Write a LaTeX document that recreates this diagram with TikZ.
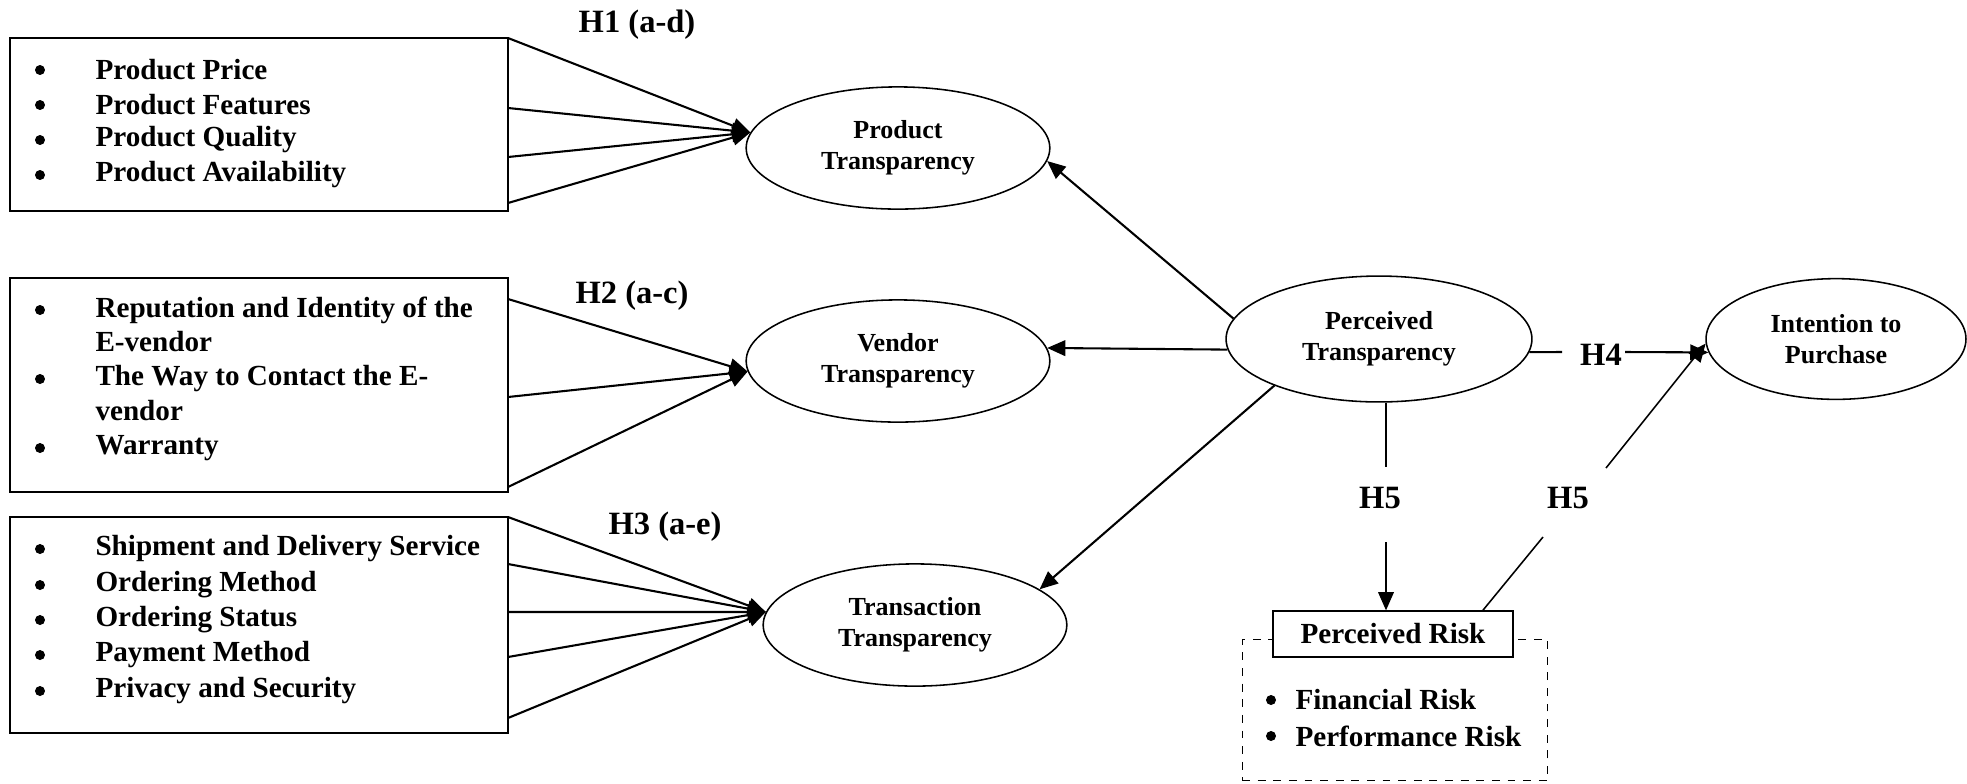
\documentclass[tikz,border=0pt]{standalone}
\usepackage{fontspec}
\setmainfont{Liberation Serif}
\usetikzlibrary{calc,arrows.meta,shapes.geometric}

\begin{document}
\begin{tikzpicture}[x=0.0135cm,y=-0.0135cm,
  every node/.style={font=\bfseries\fontsize{11.2}{13.6}\selectfont},
  listbox/.style={draw,thick,minimum width=6.72cm,inner sep=0pt},
  item/.style={anchor=west,inner sep=0pt},
  construct/.style={draw,semithick,ellipse,align=center,inner sep=0pt,minimum width=4.1cm,minimum height=1.65cm,font=\bfseries\fontsize{10}{12}\selectfont},
  hyp/.style={inner sep=1pt,font=\bfseries\fontsize{12.5}{14}\selectfont},
  arr/.style={thick,-{Triangle[length=7pt,width=6pt]}}]
      \useasboundingbox (0,0) rectangle (1967,783);

      % BOITES GAUCHE
      \node[listbox,minimum height=2.34cm] (PB) at (259,124.5) {};
      \node[listbox,minimum height=2.89cm] (VB) at (259,385) {};
      \node[listbox,minimum height=2.92cm] (TB) at (259,625) {};

      % ITEMS PRODUIT
      \node[item] (pp) at (95,70) {Product Price};
      \node[item] (pf) at (95,105) {Product Features};
      \node[item] (pq) at (95,140) {Product Quality};
      \node[item] (pa) at (95,175) {Product Availability};
      \filldraw (40,70) circle (1.7pt);
      \filldraw (40,105) circle (1.7pt);
      \filldraw (40,140) circle (1.7pt);
      \filldraw (40,175) circle (1.7pt);

      % ITEMS VENDEUR
      \node[item] (vr) at (95,310) {Reputation and Identity of the};
      \node[item] (vr2) at (95,342) {E-vendor};
      \node[item] (vw) at (95,379) {The Way to Contact the E-};
      \node[item] (vw2) at (95,411) {vendor};
      \node[item] (vy) at (95,448) {Warranty};
      \filldraw (40,310) circle (1.7pt);
      \filldraw (40,379) circle (1.7pt);
      \filldraw (40,448) circle (1.7pt);

      % ITEMS TRANSACTION
      \node[item] (ts) at (95,549) {Shipment and Delivery Service};
      \node[item] (tm) at (95,585) {Ordering Method};
      \node[item] (to) at (95,620) {Ordering Status};
      \node[item] (tp) at (95,655) {Payment Method};
      \node[item] (tv) at (95,691) {Privacy and Security};
      \filldraw (40,549) circle (1.7pt);
      \filldraw (40,585) circle (1.7pt);
      \filldraw (40,620) circle (1.7pt);
      \filldraw (40,655) circle (1.7pt);
      \filldraw (40,691) circle (1.7pt);

      % ELLIPSES
      \node[construct] (PT) at (898,148) {Product\\Transparency};
      \node[construct] (VT) at (898,361) {Vendor\\Transparency};
      \node[construct] (TT) at (915,625) {Transaction\\Transparency};
      \node[construct,minimum width=4.13cm,minimum height=1.7cm] (PC) at (1379,339) {Perceived\\Transparency};
      \node[construct,minimum width=3.51cm,minimum height=1.63cm] (IP) at (1836,339) {Intention to\\Purchase};

      % RISQUE
      \node[draw,dashed,thin,minimum width=4.13cm,minimum height=1.9cm,inner sep=0pt] (RB) at (1395,710) {};
      \node[draw,thick,fill=white,minimum width=3.25cm,minimum height=0.61cm,inner sep=0pt] (PR) at (1393,634) {Perceived Risk};
      \node[item] (rf) at (1295,700) {Financial Risk};
      \node[item] (rp) at (1295,736) {Performance Risk};
      \filldraw (1271,700) circle (1.7pt);
      \filldraw (1271,736) circle (1.7pt);

      % HYPOTHESES
      \node[hyp] (H1) at (637,25) {H1 (a-d)};
      \node[hyp] (H2) at (632,296) {H2 (a-c)};
      \node[hyp] (H3) at (665,527) {H3 (a-e)};
      \node[hyp] (H4) at (1601,355) {H4};
      \node[hyp] (H5a) at (1380,498) {H5};
      \node[hyp] (H5b) at (1568,498) {H5};

      % DEPARTS DES FLECHES
      \coordinate (P1) at (508,38);
      \coordinate (P2) at (508,108);
      \coordinate (P3) at (508,157);
      \coordinate (P4) at (508,203);
      \coordinate (V1) at (508,299);
      \coordinate (V2) at (508,397);
      \coordinate (V3) at (508,487);
      \coordinate (T1) at (508,517);
      \coordinate (T2) at (508,564);
      \coordinate (T3) at (508,612);
      \coordinate (T4) at (508,657);
      \coordinate (T5) at (508,718);
      \coordinate (A4) at (1562,352);
      \coordinate (B4) at (1625,352);
      \coordinate (A5) at (1386,467);
      \coordinate (B5) at (1386,542);
      \coordinate (C5) at (1543,537);
      \coordinate (D5) at (1606,468);

      % FLECHES GAUCHE
      \draw[arr] (P1) -- (PT.174);
      \draw[arr] (P2) -- (PT.174);
      \draw[arr] (P3) -- (PT.174);
      \draw[arr] (P4) -- (PT.174);
      \draw[arr] (V1) -- (VT.184);
      \draw[arr] (V2) -- (VT.184);
      \draw[arr] (V3) -- (VT.184);
      \draw[arr] (T1) -- (TT.175);
      \draw[arr] (T2) -- (TT.175);
      \draw[arr] (T3) -- (TT.175);
      \draw[arr] (T4) -- (TT.175);
      \draw[arr] (T5) -- (TT.175);

      % FLECHES PERCEIVED
      \draw[arr] (PC.172) -- (PT.355);
      \draw[arr] (PC.184) -- (VT.5);
      \draw[arr] (PC.204) -- (TT.16);

      % H4 ET H5
      \draw[thick] (PC.355) -- (A4);
      \draw[arr] (B4) -- (IP.186);
      \draw[semithick] (PC.south -| A5) -- (A5);
      \draw[semithick,-{Triangle[length=7pt,width=6pt]}] (B5) -- (PR.north -| B5);
      \draw[semithick] ($(PR.north west)!0.87!(PR.north east)$) -- (C5);
      \draw[arr,semithick] (D5) -- (IP.182);
  \end{tikzpicture}
\end{document}
